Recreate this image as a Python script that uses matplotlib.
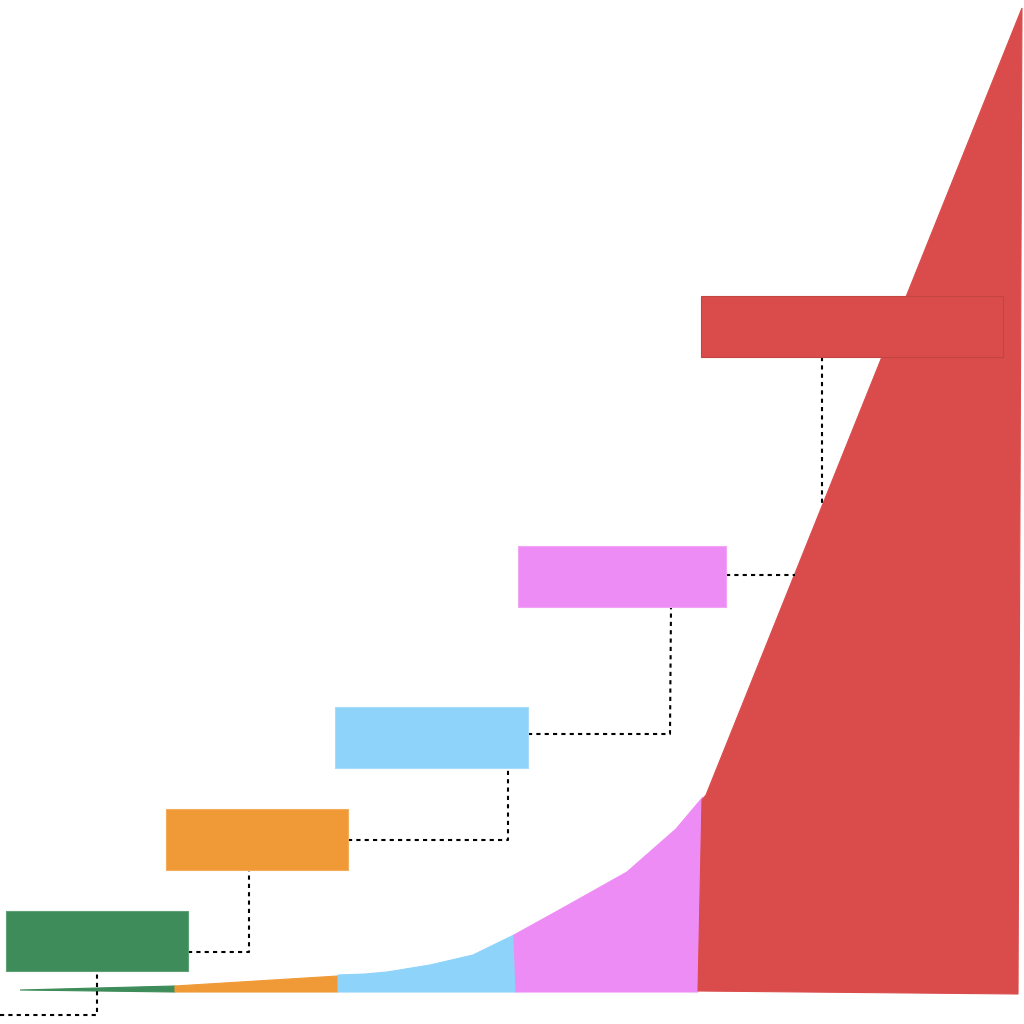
import matplotlib
matplotlib.use("Agg")
import matplotlib.pyplot as plt
from matplotlib.patches import Polygon, Rectangle

# ---- data (chart units: x to the right, y downward, 0..1024) ----
segment_names = ["green", "orange", "blue", "pink", "red"]
segment_colors = ["#3E8C59", "#F09A37", "#8ED3FA", "#EE8CF5", "#DA4C4C"]
box_edge_colors = ["#5FA077", "#F2AC5C", "#A8DCF8", "#F0A6F5", "#C44444"]

# outline of each coloured band: upper edge points then lower edge back
green_x = [20, 175, 175]
green_y = [990, 986, 992]
orange_x = [175, 338, 338, 175]
orange_y = [986, 976, 992, 992]
blue_x = [338, 365, 387, 430, 473, 514, 516, 338]
blue_y = [975, 974, 972, 965, 955, 935, 992, 992]
pink_x = [514, 570, 627, 676, 703, 698, 516]
pink_y = [935, 904, 872, 829, 797, 992, 992]
red_x = [702, 706, 1022, 1018, 698]
red_y = [800, 795, 8, 994, 991]
bands_x = [green_x, orange_x, blue_x, pink_x, red_x]
bands_y = [green_y, orange_y, blue_y, pink_y, red_y]

# label boxes: left, top, right, bottom
box_left = [6, 166, 335, 518, 701]
box_top = [911, 809, 707, 546, 296]
box_right = [188, 348, 528, 726, 1003]
box_bottom = [971, 870, 768, 607, 357]

# dotted connectors (polylines)
conn_x = [[0, 97, 97], [188, 249, 249], [348, 508, 508], [528, 670, 671], [726, 795], [822, 822]]
conn_y = [[1015, 1015, 971], [952, 952, 870], [840, 840, 768], [734, 734, 607], [575, 575], [357, 505]]

fig = plt.figure(figsize=(10.24, 10.24), dpi=100)
ax = fig.add_axes([0, 0, 1, 1])
ax.set_xlim(0, 1024)
ax.set_ylim(1024, 0)
ax.axis("off")

for xs, ys, c in zip(bands_x, bands_y, segment_colors):
    ax.add_patch(Polygon(list(zip(xs, ys)), closed=True, facecolor=c,
                         edgecolor=c, linewidth=0.8, zorder=2))

for xs, ys in zip(conn_x, conn_y):
    ax.plot(xs, ys, color="black", linestyle=(0, (2, 2)), linewidth=1.5, zorder=3)

for l, t, r, b, c, ec in zip(box_left, box_top, box_right, box_bottom,
                             segment_colors, box_edge_colors):
    ax.add_patch(Rectangle((l, t), r - l, b - t, facecolor=c, edgecolor=ec,
                           linewidth=0.8, zorder=4))

fig.savefig("out.png", dpi=100, facecolor="white")
